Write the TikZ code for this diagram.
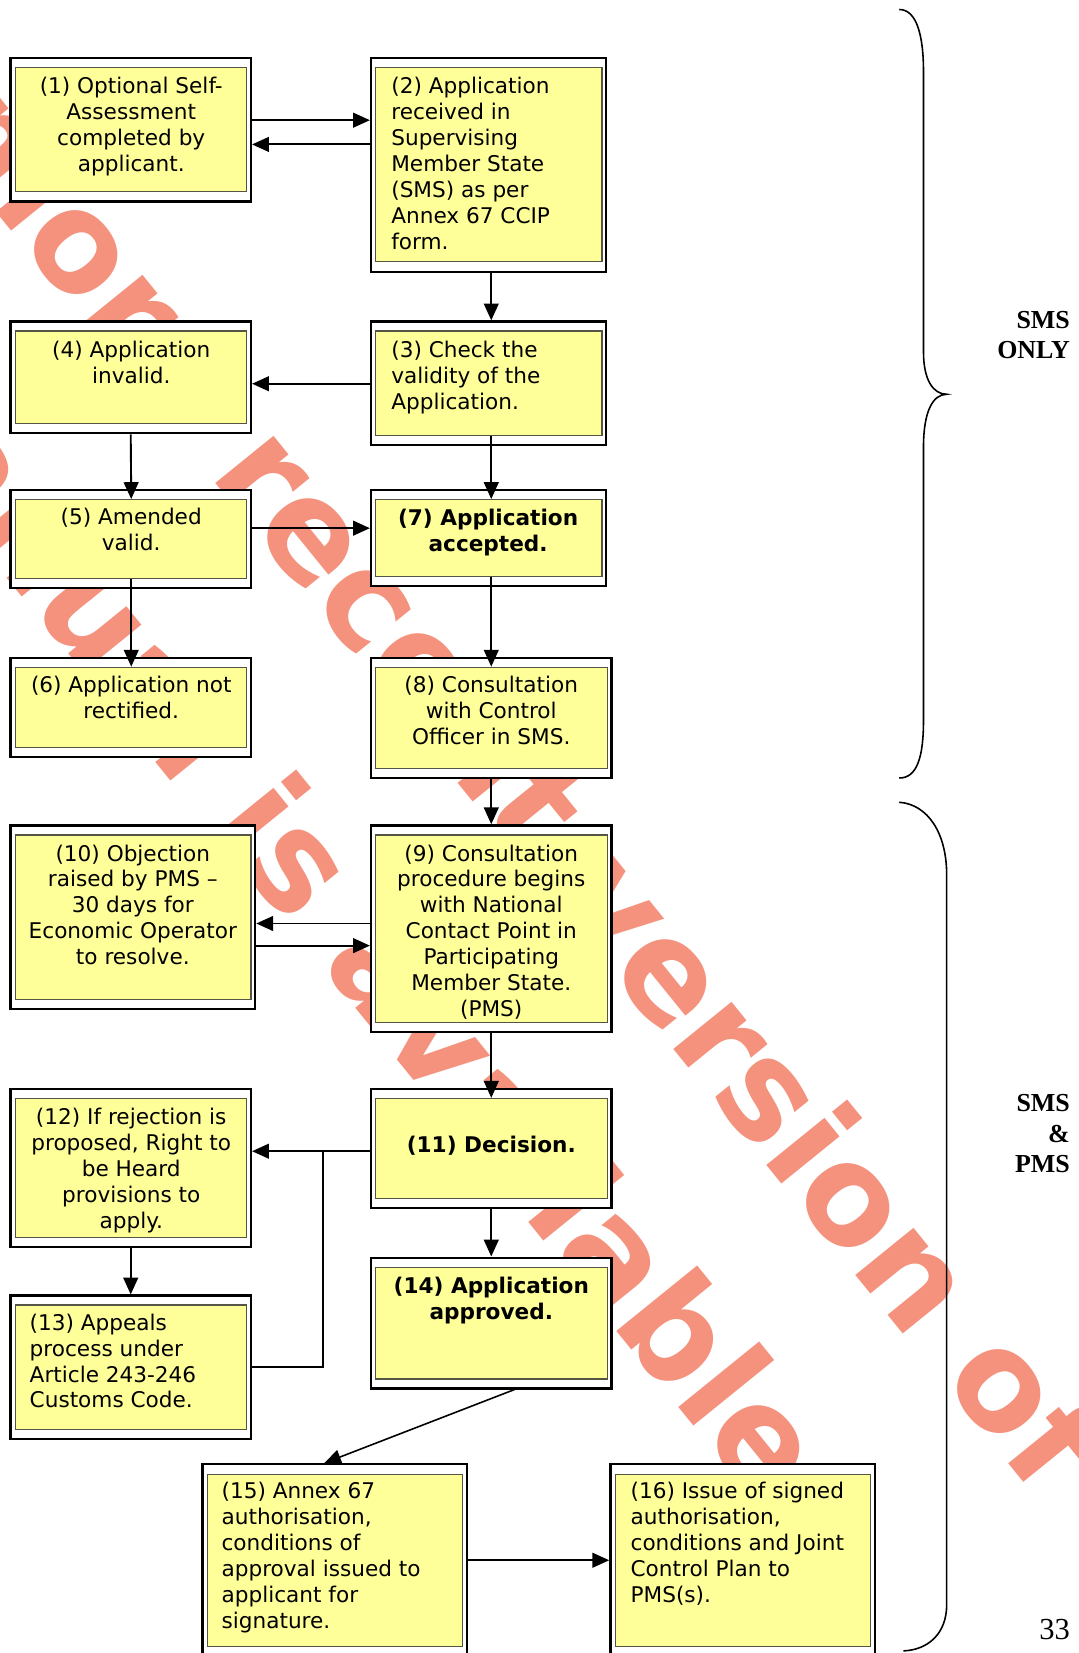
\documentclass[tikz,border=0pt]{standalone}
\usepackage{fontspec}
\setmainfont{DejaVu Sans}
\newfontfamily\tnr{Liberation Serif}
\newfontfamily\wmfont{DejaVu Sans}
\usetikzlibrary{arrows.meta,fit}
\definecolor{boxyellow}{RGB}{255,255,153}
\definecolor{innerline}{RGB}{85,85,70}
\definecolor{wmred}{RGB}{244,146,126}
\begin{document}
\begin{tikzpicture}[x=1pt,y=-1pt,
  obox/.style={draw=black, line width=2.2pt, fill=white, inner sep=0pt},
  ibox/.style={draw=innerline, line width=1.2pt, fill=boxyellow, inner sep=0pt},
  ctxt/.style={inner sep=0pt, font=\fontsize{20.5}{24.6}\selectfont, align=center, anchor=north},
  btxt/.style={inner sep=0pt, font=\bfseries\fontsize{20.5}{24.6}\selectfont, align=center, anchor=north},
  ltxt/.style={inner sep=0pt, font=\fontsize{20.5}{24.6}\selectfont, align=left, anchor=north west},
  arr/.style={line width=1.8pt, -{Triangle[length=16pt,width=14pt]}},
  ln/.style={line width=1.8pt},
  bracepath/.style={line width=1.5pt},
  lbl/.style={inner sep=0pt, font=\tnr\bfseries\fontsize{24.6}{29}\selectfont, align=right, anchor=north east},
  wm/.style={inner sep=0pt, anchor=base west, rotate=-51, text=wmred, font=\wmfont\bfseries\fontsize{130}{130}\selectfont}
]
\useasboundingbox (0,0) rectangle (1023,1568);
\begin{scope}
\clip (0,0) rectangle (1023,1568);
% watermark
\node[wm] (wm1) at (-160.2,8.8) {A more recent version of this};
\node[wm] (wm2) at (-171.1,328.9) {manual is available};

% boxes
\node[obox, fit={(10,55)(238,191)}] (o1) {};
\node[ibox, fit={(15,64)(234,182)}] (i1) {};
\node[obox, fit={(352,55)(575,258)}] (o2) {};
\node[ibox, fit={(356,64)(571,248)}] (i2) {};
\node[obox, fit={(10,305)(238,411)}] (o4) {};
\node[ibox, fit={(15,314)(234,402)}] (i4) {};
\node[obox, fit={(352,305)(575,422)}] (o3) {};
\node[ibox, fit={(356,314)(571,413)}] (i3) {};
\node[obox, fit={(10,465)(238,558)}] (o5) {};
\node[ibox, fit={(15,474)(234,549)}] (i5) {};
\node[obox, fit={(352,465)(575,556)}] (o7) {};
\node[ibox, fit={(356,474)(571,547)}] (i7) {};
\node[obox, fit={(10,624)(238,718)}] (o6) {};
\node[ibox, fit={(15,633)(234,709)}] (i6) {};
\node[obox, fit={(352,624)(580,738)}] (o8) {};
\node[ibox, fit={(356,633)(576,729)}] (i8) {};
\node[obox, fit={(10,783)(242,957)}] (o10) {};
\node[ibox, fit={(15,792)(238,948)}] (i10) {};
\node[obox, fit={(352,783)(580,979)}] (o9) {};
\node[ibox, fit={(356,792)(576,970)}] (i9) {};
\node[obox, fit={(10,1033)(238,1183)}] (o12) {};
\node[ibox, fit={(15,1042)(234,1174)}] (i12) {};
\node[obox, fit={(352,1033)(580,1146)}] (o11) {};
\node[ibox, fit={(356,1042)(576,1137)}] (i11) {};
\node[obox, fit={(10,1229)(238,1365)}] (o13) {};
\node[ibox, fit={(15,1238)(234,1356)}] (i13) {};
\node[obox, fit={(352,1193)(580,1317)}] (o14) {};
\node[ibox, fit={(356,1202)(576,1308)}] (i14) {};
\node[obox, fit={(192,1389)(443,1590)}] (o15) {};
\node[ibox, fit={(197,1399)(439,1562)}] (i15) {};
\node[obox, fit={(579,1389)(830,1590)}] (o16) {};
\node[ibox, fit={(584,1399)(826,1562)}] (i16) {};

% texts
\node[ctxt] (t1) at (124.5,73) {(1) Optional Self-\\Assessment\\completed by\\applicant.};
\node[ltxt] (t2) at (371,73) {(2) Application\\received in\\Supervising\\Member State\\(SMS) as per\\Annex 67 CCIP\\form.};
\node[ctxt] (t4) at (124.5,323) {(4) Application\\invalid.};
\node[ltxt] (t3) at (371,323) {(3) Check the\\validity of the\\Application.};
\node[ctxt] (t5) at (124.5,482) {(5) Amended\\valid.};
\node[btxt] (t7) at (463,483) {(7) Application\\accepted.};
\node[ctxt] (t6) at (124.5,641) {(6) Application not\\rectified.};
\node[ctxt] (t8) at (466,641) {(8) Consultation\\with Control\\Officer in SMS.};
\node[ctxt] (t10) at (126,801) {(10) Objection\\raised by PMS –\\30 days for\\Economic Operator\\to resolve.};
\node[ctxt] (t9) at (466,801) {(9) Consultation\\procedure begins\\with National\\Contact Point in\\Participating\\Member State.\\(PMS)};
\node[ctxt] (t12) at (124.5,1051) {(12) If rejection is\\proposed, Right to\\be Heard\\provisions to\\apply.};
\node[btxt] (t11) at (466,1077) {(11) Decision.};
\node[btxt] (t14) at (466,1211) {(14) Application\\approved.};
\node[ltxt] (t13) at (28,1246) {(13) Appeals\\process under\\Article 243-246\\Customs Code.};
\node[ltxt] (t15) at (210,1406) {(15) Annex 67\\authorisation,\\conditions of\\approval issued to\\applicant for\\signature.};
\node[ltxt] (t16) at (598,1406) {(16) Issue of signed\\authorisation,\\conditions and Joint\\Control Plan to\\PMS(s).};

% connectors
\draw[arr] (o1.east |- 0,114) -- (o2.west |- 0,114);
\draw[arr] (o2.west |- 0,137) -- (o1.east |- 0,137);
\draw[arr] ([xshift=2.5pt]o2.south) -- ([xshift=2.5pt]o3.north);
\draw[arr] (o3.west |- 0,364) -- (o4.east |- 0,364);
\draw[arr] (o4.south) -- (i5.north);
\draw[arr] ([xshift=2.5pt]i3.south) -- ([xshift=2.5pt]i7.north);
\draw[arr] (o5.east |- 0,501) -- (o7.west |- 0,501);
\draw[arr] (i5.south) -- (i6.north);
\draw[arr] ([xshift=2.5pt]i7.south) -- (i8.north);
\draw[arr] (o8.south) -- (o9.north);
\draw[arr] (o9.west |- 0,876) -- (o10.east |- 0,876);
\draw[arr] (o10.east |- 0,897) -- (o9.west |- 0,897);
\draw[arr] (o9.south) -- (i11.north);
\draw[arr] (o11.west |- 0,1092) -- (o12.east |- 0,1092);
\coordinate (j) at (306,1092);
\draw[ln] (o13.east |- 0,1297) -| (j);
\draw[arr] (o12.south) -- (o13.north);
\draw[arr] (o11.south) -- (o14.north);
\draw[arr, line width=1.5pt] ([xshift=22pt]o14.south) -- ([xshift=-10pt]o15.north);
\draw[arr] (o15.east |- 0,1480) -- (o16.west |- 0,1480);

% braces
\draw[bracepath] (853,9) .. controls (870,9) and (876,35) .. (876,68) -- (876,334)
  .. controls (876,360) and (885,374) .. (898,374)
  .. controls (885,374) and (876,390) .. (876,424) -- (876,683)
  .. controls (876,718) and (870,738) .. (853,738);
\draw[bracepath] (853,761) .. controls (880,763) and (898,790) .. (898,830) -- (898,1522)
  .. controls (898,1550) and (880,1565) .. (857,1566);

% labels
\node[lbl] (sms1) at (1015,295) {SMS\\ONLY};
\node[lbl] (sms2) at (1015,1038) {SMS\\\&\\PMS};
\node[anchor=base east, inner sep=0pt, font=\tnr\fontsize{29}{29}\selectfont] (pg) at (1015,1555) {33};
\end{scope}
\end{tikzpicture}
\end{document}
